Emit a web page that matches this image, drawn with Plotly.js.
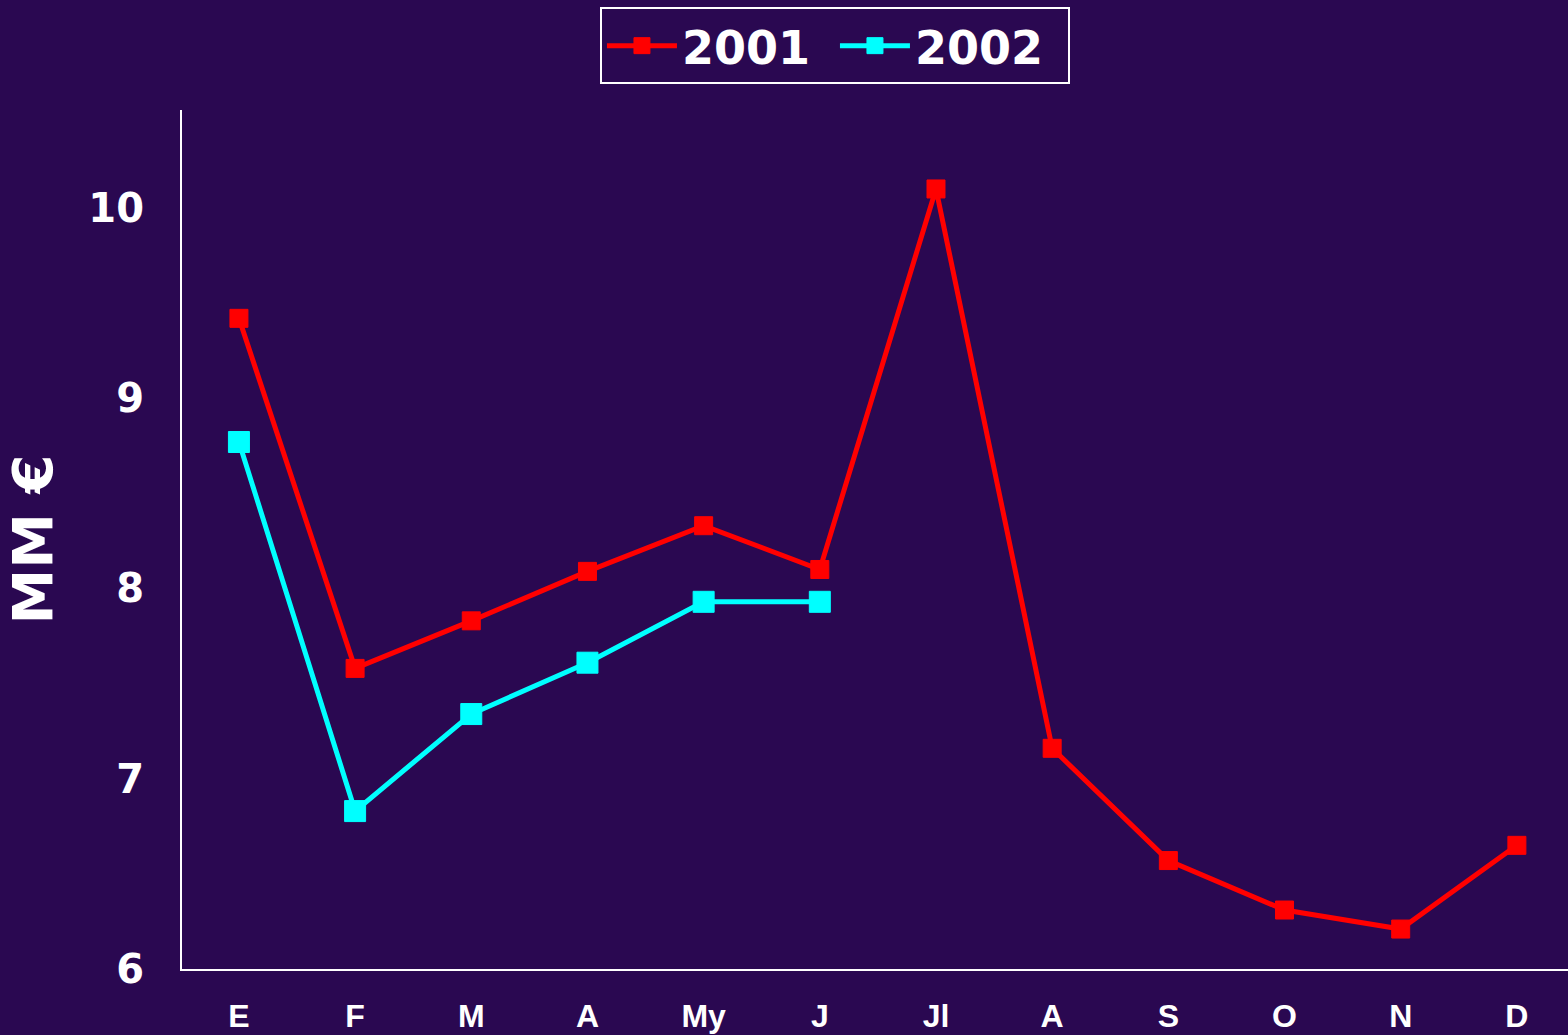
<!DOCTYPE html>
<html><head><meta charset="utf-8">
<script src="https://cdn.plot.ly/plotly-3.0.1.min.js"></script>
<style>html,body{margin:0;padding:0;background:#2A0851;}</style>
</head><body>
<div id="chart" style="width:1568px;height:1035px;"></div>
<script>
const months = ["E","F","M","A","My","J","Jl","A","S","O","N","D"];
const monthIndex = [0,1,2,3,4,5,6,7,8,9,10,11];
const values2001 = [9.42,7.58,7.83,8.09,8.33,8.10,10.10,7.16,6.57,6.31,6.21,6.65];
const values2002 = [8.77,6.83,7.34,7.61,7.93,7.93];
const yTicks = [6,7,8,9,10];

const bg = "#2A0851";
const traces = [
  {x: monthIndex.slice(0, values2001.length), y: values2001, name: "2001", type: "scatter", mode: "lines+markers",
   line: {color: "#FF0000", width: 5}, marker: {symbol: "square", size: 18, color: "#FF0000", line: {color: "#FF0000", width: 1}}},
  {x: monthIndex.slice(0, values2002.length), y: values2002, name: "2002", type: "scatter", mode: "lines+markers",
   line: {color: "#00FFFF", width: 5}, marker: {symbol: "square", size: 21, color: "#00FFFF", line: {color: "#00FFFF", width: 1}}}
];
const layout = {
  width: 1568, height: 1035,
  paper_bgcolor: bg, plot_bgcolor: bg,
  margin: {l: 182, r: 0, t: 110, b: 66},
  showlegend: true,
  legend: {orientation: "h", xref: "container", yref: "container", x: 0.5325, y: 0.993, xanchor: "center", yanchor: "top",
    bgcolor: bg, bordercolor: "#FFFFFF", borderwidth: 2, itemwidth: 70, entrywidth: 148, entrywidthmode: "pixels",
    font: {family: "DejaVu Sans", size: 46, color: "#FFFFFF", weight: "bold"}},
  xaxis: {range: [-0.49, 11.44], tickvals: monthIndex, ticktext: months, showgrid: false, zeroline: false,
    showline: true, linecolor: "#FFFFFF", linewidth: 2, ticks: "", ticklabelstandoff: 18,
    tickfont: {family: "Liberation Sans", size: 32, color: "#FFFFFF", weight: "bold"}},
  yaxis: {range: [6, 10.515], tickvals: yTicks, showgrid: false, zeroline: false,
    showline: true, linecolor: "#FFFFFF", linewidth: 2, ticks: "", ticklabelstandoff: 28,
    tickfont: {family: "DejaVu Sans", size: 40, color: "#FFFFFF", weight: "bold"},
    title: {text: "MM €", standoff: 22, font: {family: "DejaVu Sans", size: 56, color: "#FFFFFF", weight: "bold"}}}
};
Plotly.newPlot("chart", traces, layout, {displayModeBar: false, staticPlot: true});
</script>
</body></html>
